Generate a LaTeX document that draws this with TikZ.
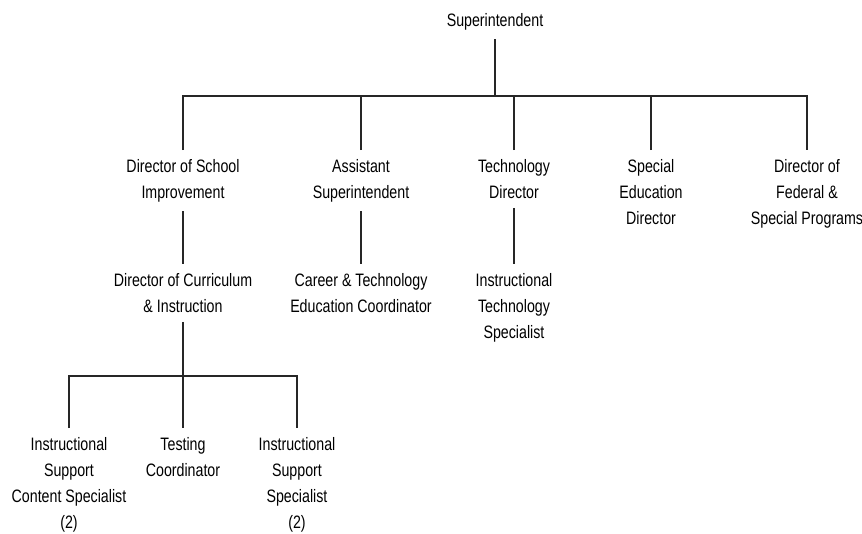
\documentclass[tikz,border=0pt]{standalone}
\usepackage{fontspec}
\setmainfont{Liberation Sans}[FakeStretch=0.79]
\begin{document}
\begin{tikzpicture}[x=0.75pt,y=-0.75pt]
	\tikzstyle{every node}+=[inner sep=0pt,outer sep=7pt,anchor=north,align=center,font=\fontsize{13.5}{19.5}\selectfont]
	\tikzstyle{orgline}=[line width=0.8pt,black!85]
	\useasboundingbox (0,0) rectangle (862,533);
	\node (sup) at (495,4) {Superintendent};
	\node (dsi) at (183,150) {Director of School\\Improvement};
	\node (asup) at (361,150) {Assistant\\Superintendent};
	\node (tdir) at (514,150) {Technology\\Director};
	\node (sedu) at (651,150) {Special\\Education\\Director};
	\node (dfsp) at (807,150) {Director of\\Federal \&\\Special Programs};
	\node (dci) at (183,264) {Director of Curriculum\\\& Instruction};
	\node (ctec) at (361,264) {Career \& Technology\\Education Coordinator};
	\node (itsp) at (514,264) {Instructional\\Technology\\Specialist};
	\node (iscs) at (69,428) {Instructional\\Support\\Content Specialist\\(2)};
	\node (tcoo) at (183,428) {Testing\\Coordinator};
	\node (issp) at (297,428) {Instructional\\Support\\Specialist\\(2)};
	\coordinate (bus) at (495,96);
	\coordinate (sub) at (183,376);
	% top level
	\draw [orgline] (sup.south) -- (bus);
	\draw [orgline] (dsi.north) |- (bus) -| (dfsp.north);
	\draw [orgline] (asup.north) -- (asup.north |- bus);
	\draw [orgline] (tdir.north) -- (tdir.north |- bus);
	\draw [orgline] (sedu.north) -- (sedu.north |- bus);
	% second level
	\draw [orgline] (dsi.south) -- (dci.north);
	\draw [orgline] (asup.south) -- (ctec.north);
	\draw [orgline] (tdir.south) -- (itsp.north);
	% curriculum staff
	\draw [orgline] (dci.south) -- (tcoo.north);
	\draw [orgline] (iscs.north) |- (sub) -| (issp.north);
\end{tikzpicture}
\end{document}
